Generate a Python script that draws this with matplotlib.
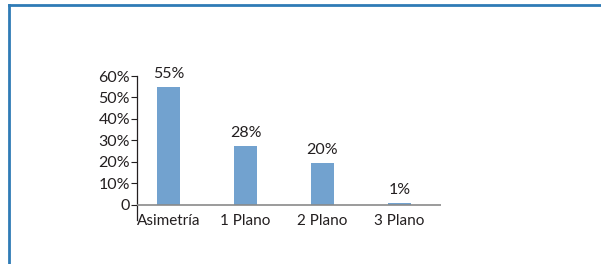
import matplotlib
matplotlib.use("Agg")
import matplotlib.pyplot as plt
from matplotlib.lines import Line2D

categories = ["Asimetría", "1 Plano", "2 Plano", "3 Plano"]
values = [55, 27.5, 19.5, 1]
value_labels = ["55%", "28%", "20%", "1%"]
y_ticks = [0, 10, 20, 30, 40, 50, 60]
y_tick_labels = ["0", "10%", "20%", "30%", "40%", "50%", "60%"]

plt.rcParams["font.family"] = ["Lato", "DejaVu Sans"]
text_color = "#231f20"
bar_color = "#72a2cf"
fs = 11.5

fig = plt.figure(figsize=(6.01, 2.64), dpi=100)

# blue frame (top and left border)
frame_color = "#2f7bb6"
fig.add_artist(Line2D([9 / 601, 1.0], [1 - 5 / 264, 1 - 5 / 264], color=frame_color, lw=2.0))
fig.add_artist(Line2D([9 / 601, 9 / 601], [0.0, 1 - 5 / 264], color=frame_color, lw=2.0))

ax = fig.add_axes([137 / 601, 44 / 264, (441 - 137) / 601, (220 - 76) / 264])
x = list(range(len(categories)))
ax.bar(x, values, width=0.31, color=bar_color, zorder=2)
for xi, v, lab in zip(x, values, value_labels):
    ax.text(xi, v + 2.8, lab, ha="center", va="bottom", fontsize=fs, color=text_color)

ax.set_ylim(-7, 60)
ax.set_xlim(-0.41, 3.54)
ax.axhline(0, color="#8a8a8a", lw=1.2, zorder=3)

ax.set_yticks(y_ticks)
ax.set_yticklabels(y_tick_labels)
ax.set_xticks(x)
ax.set_xticklabels(categories)
ax.tick_params(axis="y", length=4, width=0.8, color=text_color, labelsize=fs,
               labelcolor=text_color, pad=1)
ax.tick_params(axis="x", length=0, labelsize=11, labelcolor=text_color, pad=-4)

for side in ["top", "right", "bottom"]:
    ax.spines[side].set_visible(False)
ax.spines["left"].set_color(text_color)
ax.spines["left"].set_linewidth(0.9)

fig.savefig("out.png", dpi=100)
